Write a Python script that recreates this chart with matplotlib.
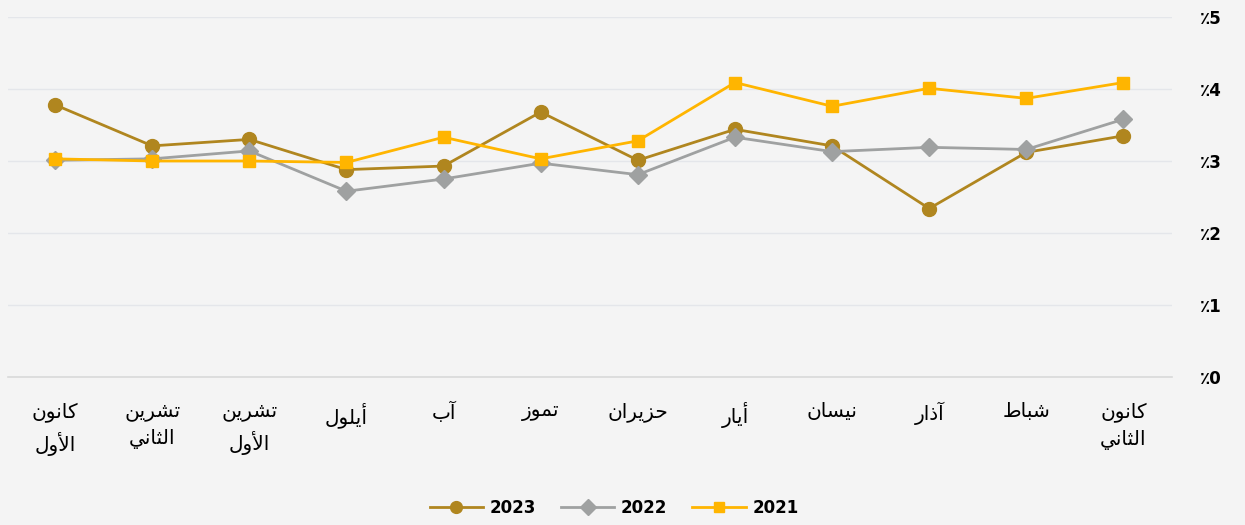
import matplotlib
matplotlib.use("Agg")
from matplotlib import pyplot as plt

# months, January .. December (drawn right to left)
months = ["كانون\nالثاني", "شباط", "آذار", "نيسان", "أيار", "حزيران",
          "تموز", "آب", "أيلول", "تشرين\nالأول", "تشرين\nالثاني", "كانون\nالأول"]

y2023 = [3.35, 3.12, 2.34, 3.21, 3.44, 3.01, 3.68, 2.93, 2.88, 3.30, 3.21, 3.78]
y2022 = [3.58, 3.16, 3.19, 3.13, 3.33, 2.81, 2.97, 2.75, 2.58, 3.14, 3.03, 3.01]
y2021 = [4.09, 3.87, 4.01, 3.76, 4.09, 3.28, 3.03, 3.33, 2.98, 3.00, 3.00, 3.03]

yticks = [0, 1, 2, 3, 4, 5]

# matplotlib does no Arabic shaping, so map letters to presentation forms
# (isolated, final, initial, medial); None = letter does not join forward
FORMS = {
    "ا": ("\uFE8D", "\uFE8E", None, None),
    "أ": ("\uFE83", "\uFE84", None, None),
    "آ": ("\uFE81", "\uFE82", None, None),
    "ب": ("\uFE8F", "\uFE90", "\uFE91", "\uFE92"),
    "ت": ("\uFE95", "\uFE96", "\uFE97", "\uFE98"),
    "ث": ("\uFE99", "\uFE9A", "\uFE9B", "\uFE9C"),
    "ح": ("\uFEA1", "\uFEA2", "\uFEA3", "\uFEA4"),
    "ذ": ("\uFEAB", "\uFEAC", None, None),
    "ر": ("\uFEAD", "\uFEAE", None, None),
    "ز": ("\uFEAF", "\uFEB0", None, None),
    "س": ("\uFEB1", "\uFEB2", "\uFEB3", "\uFEB4"),
    "ش": ("\uFEB5", "\uFEB6", "\uFEB7", "\uFEB8"),
    "ط": ("\uFEC1", "\uFEC2", "\uFEC3", "\uFEC4"),
    "ك": ("\uFED9", "\uFEDA", "\uFEDB", "\uFEDC"),
    "ل": ("\uFEDD", "\uFEDE", "\uFEDF", "\uFEE0"),
    "م": ("\uFEE1", "\uFEE2", "\uFEE3", "\uFEE4"),
    "ن": ("\uFEE5", "\uFEE6", "\uFEE7", "\uFEE8"),
    "و": ("\uFEED", "\uFEEE", None, None),
    "ي": ("\uFEF1", "\uFEF2", "\uFEF3", "\uFEF4"),
}
LAMALEF = {"أ": ("\uFEF7", "\uFEF8"), "آ": ("\uFEF5", "\uFEF6"), "ا": ("\uFEFB", "\uFEFC")}


def shape_word(word):
    # merge lam + alef into ligature tokens first
    toks = []
    i = 0
    while i < len(word):
        if word[i] == "ل" and i + 1 < len(word) and word[i + 1] in LAMALEF:
            toks.append(("LA", word[i + 1]))
            i += 2
        else:
            toks.append(("CH", word[i]))
            i += 1

    def joins_next(t):
        if t[0] == "LA":
            return False
        f = FORMS.get(t[1])
        return f is not None and f[2] is not None

    out = []
    for k, t in enumerate(toks):
        prev_j = k > 0 and joins_next(toks[k - 1])
        next_j = k + 1 < len(toks) and joins_next(t)
        if t[0] == "LA":
            out.append(LAMALEF[t[1]][1 if prev_j else 0])
            continue
        f = FORMS.get(t[1])
        if f is None:
            out.append(t[1])
        elif prev_j and next_j:
            out.append(f[3])
        elif prev_j:
            out.append(f[1])
        elif next_j:
            out.append(f[2])
        else:
            out.append(f[0])
    return "".join(out[::-1])


def shape(text):
    lines = []
    for line in text.split("\n"):
        words = [shape_word(w) for w in line.split(" ")]
        lines.append(" ".join(words[::-1]))
    return "\n".join(lines)


plt.rcParams['font.family'] = ['DejaVu Sans']
bg = '#f4f4f4'

fig = plt.figure(figsize=(12.45, 5.25), dpi=100, facecolor=bg)
ax = fig.add_axes([8/1245, 148/525, (1172-8)/1245, (377-17)/525])
ax.set_facecolor(bg)

x = list(range(len(months)))
ax.plot(x, y2023, color='#b0861f', lw=2, marker='o', ms=10, label='2023', zorder=3)
ax.plot(x, y2022, color='#9fa1a1', lw=2, marker='D', ms=9, label='2022', zorder=4)
ax.plot(x, y2021, color='#ffb500', lw=2, marker='s', ms=9, label='2021', zorder=5)

ax.set_xlim(11.485, -0.5)
ax.set_ylim(0, 5)

ax.set_yticks(yticks)
ax.set_yticklabels(["\u066a%d" % v for v in yticks], fontweight='bold', fontsize=12)
ax.yaxis.tick_right()
ax.tick_params(axis='y', length=0, pad=20)
for lab in ax.get_yticklabels():
    lab.set_horizontalalignment('left')

ax.set_xticks(x)
ax.set_xticklabels([shape(m) for m in months], fontsize=14.5, linespacing=1.55, va='top')
ax.tick_params(axis='x', length=0, pad=18)

ax.grid(axis='y', color='#e4e6ea', lw=1)
ax.set_axisbelow(True)
for s in ['top', 'left', 'right']:
    ax.spines[s].set_visible(False)
ax.spines['bottom'].set_color('#d9d9d9')
ax.spines['bottom'].set_linewidth(1.2)

leg = fig.legend(loc='center', bbox_to_anchor=(614/1245, 1 - 508/525), ncol=3,
                 frameon=False, prop={'weight': 'bold', 'size': 12},
                 handlelength=3.2, columnspacing=1.5, handletextpad=0.4,
                 markerscale=0.85)

fig.savefig('out.png', dpi=100, facecolor=bg)
